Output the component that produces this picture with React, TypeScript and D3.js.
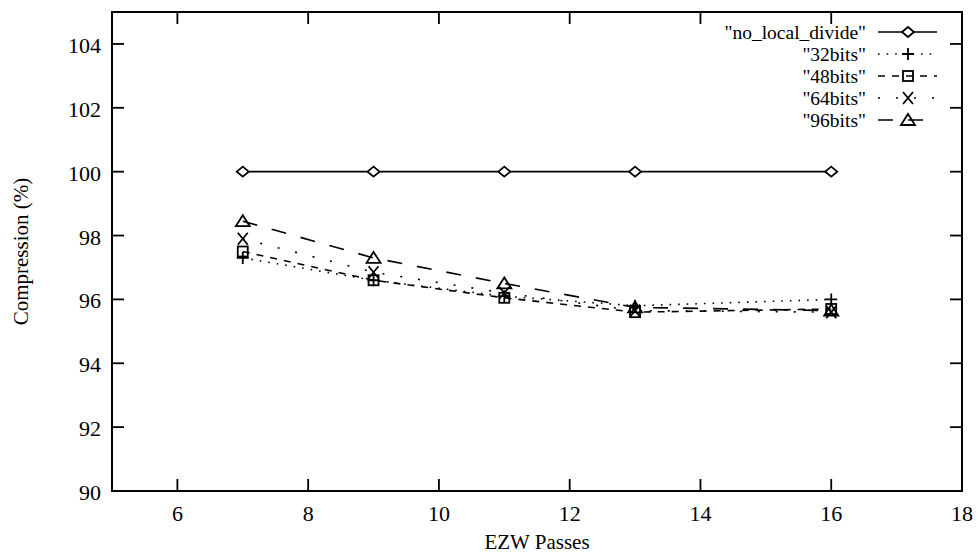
import React from "react";
import * as d3 from "d3";

const passes = [7, 9, 11, 13, 16];
const noLocalDivide = [100, 100, 100, 100, 100];
const bits32 = [97.3, 96.6, 96.1, 95.8, 96.0];
const bits48 = [97.5, 96.6, 96.05, 95.6, 95.7];
const bits64 = [97.9, 96.85, 96.2, 95.65, 95.6];
const bits96 = [98.45, 97.3, 96.5, 95.75, 95.65];

const seriesNames = ['"no_local_divide"', '"32bits"', '"48bits"', '"64bits"', '"96bits"'];
const xTicks = [6, 8, 10, 12, 14, 16, 18];
const yTicks = [90, 92, 94, 96, 98, 100, 102, 104];

const W = 979, H = 555;
const L = 112, R = 962, T = 12, B = 491;
const FONT = "Liberation Serif";

type Mk = "diamond" | "plus" | "square" | "cross" | "triangle";
const styles: { dash: string; marker: Mk }[] = [
  { dash: "none", marker: "diamond" },
  { dash: "1.6,7", marker: "plus" },
  { dash: "7,7", marker: "square" },
  { dash: "2,16", marker: "cross" },
  { dash: "15,15", marker: "triangle" },
];

function Marker({ type, x, y }: { type: Mk; x: number; y: number }) {
  const s = 6;
  const common = { fill: "none", stroke: "#000", strokeWidth: 1.8 };
  switch (type) {
    case "diamond":
      return <path d={`M${x - s},${y}L${x},${y - 5}L${x + s},${y}L${x},${y + 5}Z`} {...common} fill="#fff" />;
    case "plus":
      return <path d={`M${x - s},${y}H${x + s}M${x},${y - s}V${y + s}`} {...common} />;
    case "square":
      return <rect x={x - 5} y={y - 5} width={10} height={10} {...common} />;
    case "cross":
      return <path d={`M${x - 5},${y - 6}L${x + 5},${y + 6}M${x + 5},${y - 6}L${x - 5},${y + 6}`} {...common} />;
    case "triangle":
      return <path d={`M${x - 7},${y + 5}L${x},${y - 6}L${x + 7},${y + 5}Z`} {...common} />;
  }
}

export default function App() {
  const x = d3.scaleLinear().domain([5, 18]).range([L, R]);
  const y = d3.scaleLinear().domain([90, 105]).range([B, T]);
  const data = [noLocalDivide, bits32, bits48, bits64, bits96];
  const line = d3
    .line<number>()
    .x((_, i) => x(passes[i]))
    .y((d) => y(d));
  const legendY = [32, 54, 76, 98, 120];

  return (
    <div style={{ position: "absolute", left: 0, top: 0 }}>
      <svg width={W} height={H} style={{ display: "block", background: "#fff" }}>
        <rect x={L} y={T} width={R - L} height={B - T} fill="none" stroke="#000" strokeWidth={2} />
        {xTicks.map((t) => (
          <g key={"x" + t}>
            {t < 18 && (
              <>
                <line x1={x(t)} x2={x(t)} y1={B} y2={B - 12} stroke="#000" strokeWidth={1.8} />
                <line x1={x(t)} x2={x(t)} y1={T} y2={T + 12} stroke="#000" strokeWidth={1.8} />
              </>
            )}
            <text x={x(t)} y={521} textAnchor="middle" fontFamily={FONT} fontSize={22}>
              {t}
            </text>
          </g>
        ))}
        {yTicks.map((t) => (
          <g key={"y" + t}>
            {t > 90 && (
              <>
                <line x1={L} x2={L + 12} y1={y(t)} y2={y(t)} stroke="#000" strokeWidth={1.8} />
                <line x1={R} x2={R - 12} y1={y(t)} y2={y(t)} stroke="#000" strokeWidth={1.8} />
              </>
            )}
            <text x={101} y={y(t) + 9} textAnchor="end" fontFamily={FONT} fontSize={22}>
              {t}
            </text>
          </g>
        ))}
        <text x={(L + R) / 2} y={549} textAnchor="middle" fontFamily={FONT} fontSize={21}>
          EZW Passes
        </text>
        <text
          transform={`translate(28,${(T + B) / 2}) rotate(-90)`}
          textAnchor="middle"
          fontFamily={FONT}
          fontSize={21}
        >
          Compression (%)
        </text>
        {data.map((vals, si) => (
          <g key={"s" + si}>
            <path
              d={line(vals) || ""}
              fill="none"
              stroke="#000"
              strokeWidth={1.6}
              strokeDasharray={styles[si].dash}
            />
            {vals.map((v, i) => (
              <Marker key={i} type={styles[si].marker} x={x(passes[i])} y={y(v)} />
            ))}
          </g>
        ))}
        {seriesNames.map((name, si) => (
          <g key={"l" + si}>
            <text x={866} y={legendY[si] + 7} textAnchor="end" fontFamily={FONT} fontSize={19.5}>
              {name}
            </text>
            <line
              x1={878}
              x2={937}
              y1={legendY[si]}
              y2={legendY[si]}
              stroke="#000"
              strokeWidth={1.6}
              strokeDasharray={styles[si].dash}
            />
            <Marker type={styles[si].marker} x={908} y={legendY[si]} />
          </g>
        ))}
      </svg>
    </div>
  );
}
